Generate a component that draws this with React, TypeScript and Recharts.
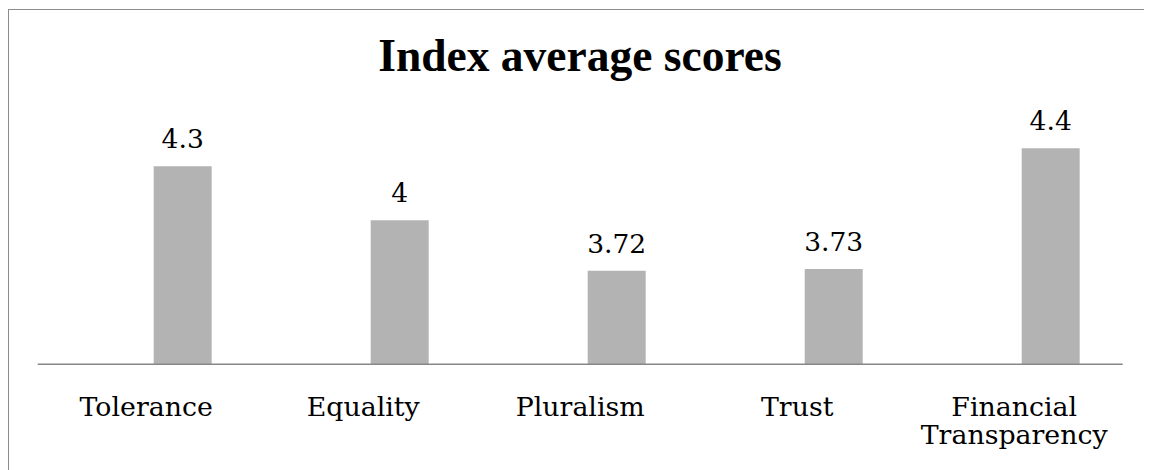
import React from 'react';
import { BarChart, Bar, XAxis, YAxis, LabelList } from 'recharts';

const title = 'Index average scores';
const categories = ['Tolerance', 'Equality', 'Pluralism', 'Trust', 'Financial Transparency'];
const scores = [4.3, 4, 3.72, 3.73, 4.4];
const valueDomain: [number, number] = [3.2, 4.6];

const data = categories.map((c, i) => ({ category: c, score: scores[i] }));

const CategoryTick = (props: any) => {
  const { x, y, payload } = props;
  const words = String(payload.value).split(' ');
  return (
    <text
      x={x}
      y={y + 51.7}
      textAnchor="middle"
      fontFamily="'DejaVu Serif', serif"
      fontSize={26.8}
      fill="#000"
    >
      {words.map((w, i) => (
        <tspan key={i} x={x} dy={i === 0 ? 0 : 28}>
          {w}
        </tspan>
      ))}
    </text>
  );
};

const ValueLabel = (props: any) => {
  const { x, y, width, value } = props;
  return (
    <text
      x={Number(x) + Number(width) / 2}
      y={Number(y) - 18}
      textAnchor="middle"
      fontFamily="'DejaVu Serif', serif"
      fontSize={26.5}
      fill="#000"
    >
      {value}
    </text>
  );
};

export default function App() {
  return (
    <div style={{ paddingTop: 1 }}>
      <div
        style={{
          position: 'relative',
          width: 1140,
          height: 470,
          border: '1px solid #8c8c8c',
          background: '#fff',
        }}
      >
        <BarChart
          width={1140}
          height={470}
          data={data}
          barSize={58}
          barGap={14}
          margin={{ top: 102.3, right: 26.3, bottom: 15.7, left: 28.7 }}
        >
          <YAxis hide type="number" domain={valueDomain} allowDataOverflow />
          <XAxis
            dataKey="category"
            interval={0}
            height={100}
            tickLine={false}
            tickSize={0}
            tickMargin={0}
            axisLine={{ stroke: '#878787', strokeWidth: 1.6 }}
            tick={<CategoryTick />}
          />
          <Bar dataKey="spacer" fill="none" isAnimationActive={false} />
          <Bar dataKey="score" fill="#b3b3b3" isAnimationActive={false}>
            <LabelList dataKey="score" content={<ValueLabel />} />
          </Bar>
        </BarChart>
        <svg
          width={1140}
          height={100}
          style={{ position: 'absolute', left: 0, top: 0, pointerEvents: 'none' }}
        >
          <text
            x={571}
            y={60.7}
            textAnchor="middle"
            fontFamily="'Liberation Serif', serif"
            fontWeight="bold"
            fontSize={45.5}
            fill="#000"
          >
            {title}
          </text>
        </svg>
      </div>
    </div>
  );
}
